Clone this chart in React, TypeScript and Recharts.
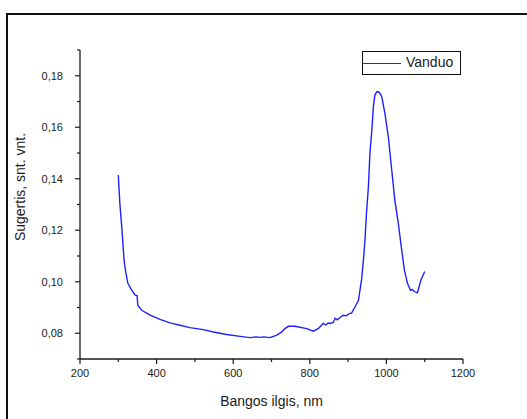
import { LineChart, Line, XAxis, YAxis, Legend, Label } from "recharts";

// wavelength (nm) and absorbance
const wavelength = [
  300, 304, 309, 312, 315, 320, 325, 335, 344, 349, 351, 361, 383, 409, 435, 461, 487, 522, 548, 583,
  618, 644, 660, 670, 680, 696, 714, 727, 735, 744, 761, 792, 809, 822, 835, 842, 848, 853, 861, 866,
  872, 880, 887, 895, 903, 909, 918, 927, 935, 940, 944, 948, 953, 957, 962, 966, 970, 975, 979, 984,
  988, 996, 1005, 1014, 1022, 1031, 1040, 1047, 1055, 1063, 1068, 1073, 1081, 1090, 1100,
];
const absorbance = [
  0.1414, 0.1305, 0.1213, 0.115, 0.1084, 0.1033, 0.0994, 0.0967, 0.0948, 0.0946, 0.0909, 0.0889, 0.087,
  0.0854, 0.084, 0.0831, 0.0822, 0.0814, 0.0805, 0.0795, 0.0788, 0.0783, 0.0786, 0.0784, 0.0786, 0.0783,
  0.0793, 0.0805, 0.0818, 0.0827, 0.0827, 0.0818, 0.0808, 0.0818, 0.0838, 0.0832, 0.084, 0.0838, 0.0842,
  0.0858, 0.0852, 0.0862, 0.087, 0.0868, 0.0876, 0.0878, 0.0902, 0.0928, 0.1006, 0.1084, 0.1161, 0.1266,
  0.1369, 0.15, 0.1589, 0.168, 0.1725, 0.1738, 0.1738, 0.173, 0.1718, 0.1655, 0.1563, 0.1433, 0.1317,
  0.1228, 0.1123, 0.1045, 0.0994, 0.0967, 0.097, 0.0962, 0.0957, 0.1006, 0.104,
];
const xTicks = [200, 300, 400, 500, 600, 700, 800, 900, 1000, 1100, 1200];
const yTicks = [0.07, 0.08, 0.09, 0.1, 0.11, 0.12, 0.13, 0.14, 0.15, 0.16, 0.17, 0.18, 0.19];

const data = wavelength.map((w, i) => ({ w, a: absorbance[i] }));

const font = "'Liberation Sans', Arial, sans-serif";
const ink = "#1a1a1a";

function XTick({ x, y, payload }: any) {
  const major = payload.value % 200 === 0;
  return (
    <g>
      <line x1={x} x2={x} y1={y} y2={y + (major ? 5 : 3)} stroke={ink} strokeWidth={1.2} />
      {major && (
        <text x={x} y={y + 18} textAnchor="middle" fontSize={11} fontFamily={font} fill={ink}>
          {payload.value}
        </text>
      )}
    </g>
  );
}

function YTick({ x, y, payload }: any) {
  const major = Math.round(payload.value * 100) % 2 === 0 && payload.value > 0.075;
  return (
    <g>
      <line x1={x} x2={x - (major ? 5 : 3)} y1={y} y2={y} stroke={ink} strokeWidth={1.2} />
      {major && (
        <text x={x - 17} y={y + 4} textAnchor="end" fontSize={11} fontFamily={font} fill={ink}>
          {payload.value.toFixed(2).replace(".", ",")}
        </text>
      )}
    </g>
  );
}

function LegendBox() {
  return (
    <div
      style={{
        width: 97,
        height: 22,
        border: "1px solid #111",
        background: "#fff",
        position: "relative",
        fontFamily: font,
        fontSize: 14,
        color: ink,
      }}
    >
      <div style={{ position: "absolute", left: 0, top: 11, width: 38, borderTop: "1.5px solid #1f1fff" }} />
      <span style={{ position: "absolute", left: 43, top: 2 }}>Vanduo</span>
    </div>
  );
}

export default function App() {
  return (
    <div style={{ position: "absolute", left: 0, top: 0, width: 527, height: 419, background: "#fff" }}>
      <div
        style={{
          position: "absolute",
          left: 6,
          top: 13,
          width: 521,
          height: 406,
          boxSizing: "border-box",
          borderTop: "2px solid #111",
          borderLeft: "2px solid #111",
        }}
      />
      <div style={{ position: "absolute", left: 0, top: 0 }}>
        <LineChart width={527} height={419} data={data} margin={{ top: 50, right: 64, bottom: 20, left: 20 }}>
          <XAxis
            dataKey="w"
            type="number"
            domain={[200, 1200]}
            ticks={xTicks}
            interval={0}
            height={40}
            tickSize={0}
            tickMargin={0}
            tickLine={false}
            tick={<XTick />}
            axisLine={{ stroke: ink, strokeWidth: 1.3 }}
          >
            <Label
              content={({ viewBox }: any) => (
                <text
                  x={viewBox.x + viewBox.width / 2}
                  y={406}
                  textAnchor="middle"
                  fontSize={14}
                  fontFamily={font}
                  fill={ink}
                >
                  Bangos ilgis, nm
                </text>
              )}
            />
          </XAxis>
          <YAxis
            type="number"
            domain={[0.07, 0.19]}
            ticks={yTicks}
            interval={0}
            width={60}
            tickSize={0}
            tickMargin={0}
            tickLine={false}
            tick={<YTick />}
            axisLine={{ stroke: ink, strokeWidth: 1.3 }}
          >
            <Label
              content={() => (
                <text
                  x={25}
                  y={187}
                  transform="rotate(-90 25 187)"
                  textAnchor="middle"
                  fontSize={14}
                  fontFamily={font}
                  fill={ink}
                >
                  Sugertis, snt. vnt.
                </text>
              )}
            />
          </YAxis>
          <Legend
            layout="horizontal"
            verticalAlign="middle"
            align="center"
            content={() => <LegendBox />}
            wrapperStyle={{ position: "absolute", left: 362, top: 51, width: 99, height: 24 }}
          />
          <Line
            type="linear"
            dataKey="a"
            stroke="#1f1fff"
            strokeWidth={1.4}
            dot={false}
            isAnimationActive={false}
          />
        </LineChart>
      </div>
    </div>
  );
}
